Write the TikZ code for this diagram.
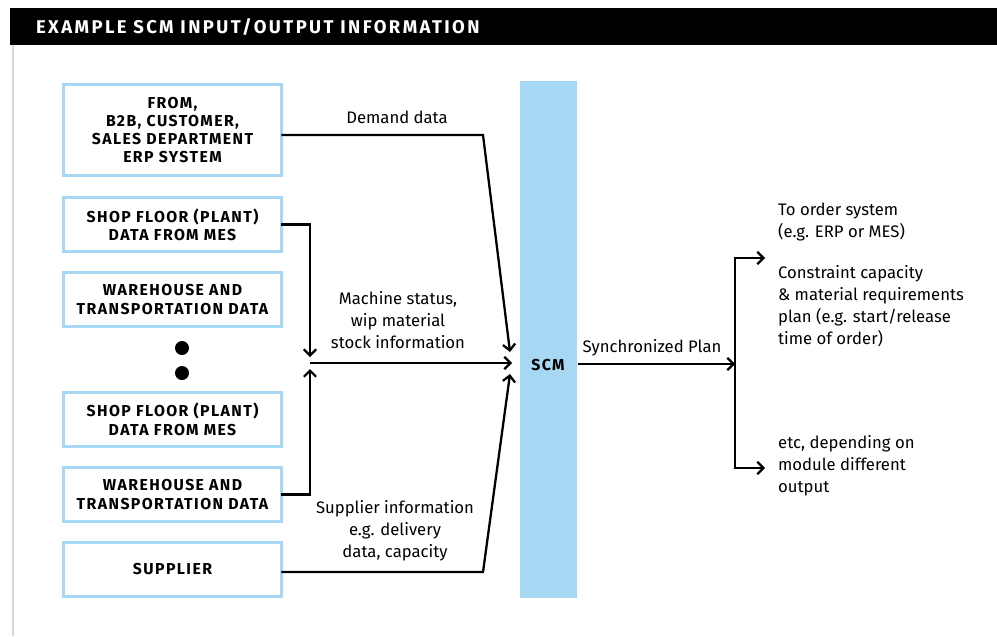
\documentclass[tikz,border=0pt]{standalone}
\usepackage{fontspec}
\setmainfont{Fira Sans}
\newfontfamily\spacedbold[LetterSpace=9]{Fira Sans}
\newfontfamily\titlebold[LetterSpace=13]{Fira Sans}
\usepackage{tikz}
\usetikzlibrary{positioning}
\usetikzlibrary{arrows.meta}
\definecolor{scmblue}{RGB}{166,216,244}
\definecolor{rulegray}{RGB}{215,215,215}
\tikzset{
every picture/.style={line width=1.3pt},
inbox/.style={rectangle, draw=scmblue, line width=1.7pt, minimum width=4.36cm, minimum height=1.08cm, inner sep=0pt, outer sep=0pt, align=center, font=\spacedbold\bfseries\fontsize{9}{10.4}\selectfont},
scmbar/.style={rectangle, fill=scmblue, minimum width=1.14cm, minimum height=10.34cm, inner sep=0pt},
dotnode/.style={circle, fill=black, minimum size=0.28cm, inner sep=0pt},
flowlabel/.style={inner sep=0pt, align=center, font=\fontsize{9.5}{12.5}\selectfont},
outlabel/.style={inner sep=0pt, anchor=west, align=left, font=\fontsize{9.5}{12.5}\selectfont},
flow/.style={-{Straight Barb[length=3.5pt,width=7pt]}},
flowboth/.style={{Straight Barb[length=3.5pt,width=7pt]}-{Straight Barb[length=3.5pt,width=7pt]}}
}

\begin{document}
\begin{tikzpicture}[x=0.02cm, y=-0.02cm]
\useasboundingbox (0,0) rectangle (997,636);
%Frame
\fill[black] (10,8) rectangle (997,45);
\draw[rulegray, line width=1.7pt] (13,45) -- (13,636);
\node[anchor=west, inner sep=0pt, text=white, font=\titlebold\bfseries\fontsize{10.5}{12}\selectfont] (title) at (35,27) {EXAMPLE SCM INPUT/OUTPUT INFORMATION};

%Nodes
\node[inbox, minimum height=1.82cm] (erp) at (172.5,130) {FROM,\\ B2B, CUSTOMER,\\ SALES DEPARTMENT\\ ERP SYSTEM};
\node[inbox] (mesA) [below=0.44cm of erp] {SHOP FLOOR (PLANT)\\ DATA FROM MES};
\node[inbox] (whA) [below=0.42cm of mesA] {WAREHOUSE AND\\ TRANSPORTATION DATA};
\node[inbox] (mesB) [below=1.32cm of whA] {SHOP FLOOR (PLANT)\\ DATA FROM MES};
\node[inbox] (whB) [below=0.42cm of mesB] {WAREHOUSE AND\\ TRANSPORTATION DATA};
\node[inbox] (supplier) [below=0.42cm of whB] {SUPPLIER};
\node[dotnode] (dotA) at (182,348) {};
\node[dotnode] (dotB) at (182,373) {};
\node[scmbar] (scm) at (548.5,339.5) {};
\node[font=\spacedbold\bfseries\fontsize{9}{10}\selectfont] (scmlabel) at (548,365) {SCM};

%Points
\coordinate (demandknee) at (483,135);
\coordinate (demandtip) at (510,352);
\coordinate (mergetop) at (310,357);
\coordinate (merge) at (310,363);
\coordinate (mergebot) at (310,369);
\coordinate (mergetip) at (512,363);
\coordinate (supplyknee) at (483,572);
\coordinate (supplytip) at (510,374);
\coordinate (split) at (735,364);
\coordinate (orderout) at (765,258);
\coordinate (otherout) at (765,468);

%Lines
\draw[flow] ([yshift=-2.8pt]erp.east) -- (demandknee) -- (demandtip);
\draw[flow] (mesA.east) -| (mergetop);
\draw[flow] (whB.east) -| (mergebot);
\draw[flow] (merge) -- (mergetip);
\draw[flow] (supplier.east |- supplyknee) -- (supplyknee) -- (supplytip);
\draw[flow] (scm.east |- split) -- (split);
\draw[flowboth] (orderout) -| (split) |- (otherout);

%Labels
\node[flowlabel] (demandlbl) at (397,117) {Demand data};
\node[flowlabel] (machinelbl) at (398,320) {Machine status,\\ wip material\\ stock information};
\node[flowlabel] (supplierlbl) at (395,531) {Supplier information\\ e.g. delivery\\ data, capacity};
\node[flowlabel] (planlbl) at (652,348) {Synchronized Plan};
\node[outlabel] (orderlbl) at (777,222) {To order system\\ (e.g. ERP or MES)};
\node[outlabel] (capacitylbl) at (777,306.5) {Constraint capacity\\ \& material requirements\\ plan (e.g. start/release\\ time of order)};
\node[outlabel] (otherlbl) at (777,466) {etc, depending on\\ module different\\ output};
\end{tikzpicture}
\end{document}
